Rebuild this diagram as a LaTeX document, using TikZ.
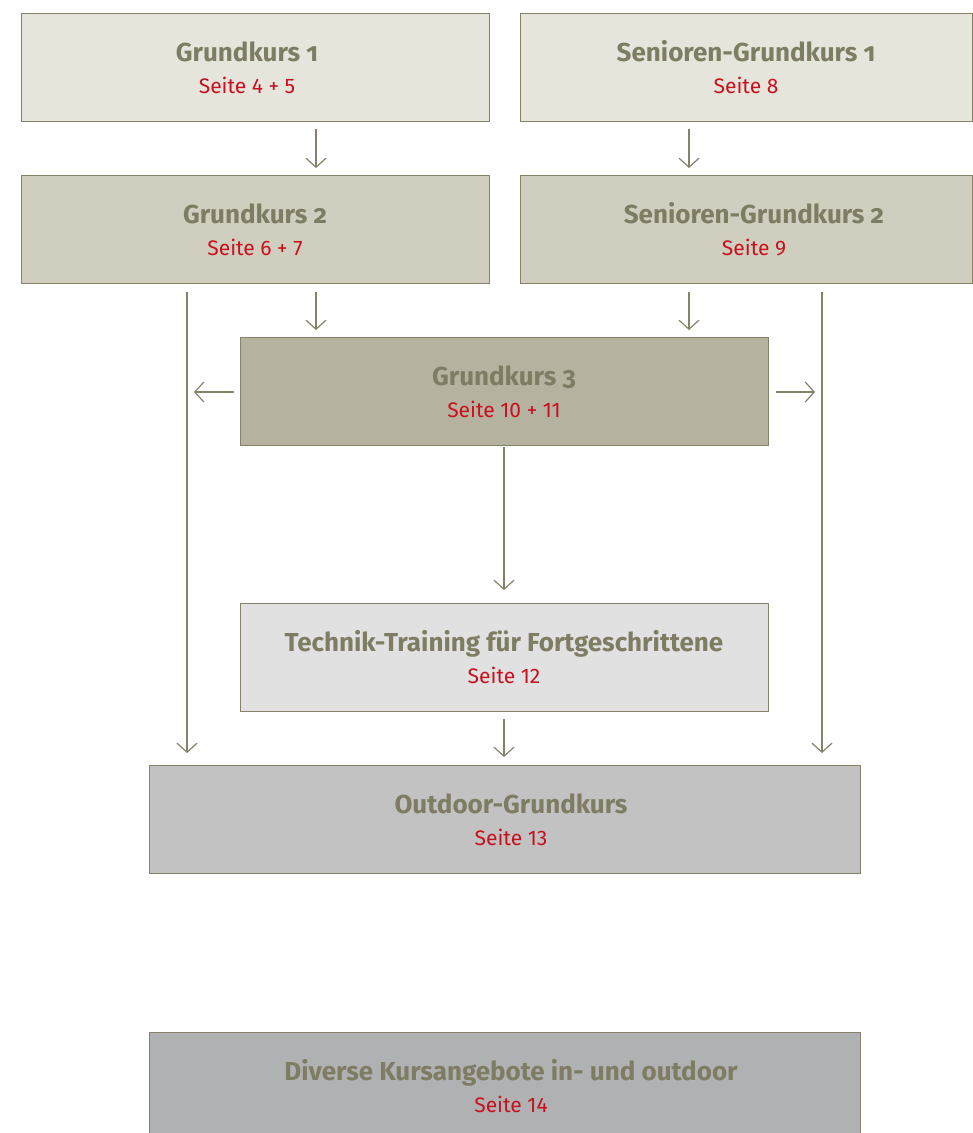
\documentclass[tikz,border=0pt]{standalone}
\usepackage{fontspec}
\setmainfont{Fira Sans}[Numbers=OldStyle]
\usetikzlibrary{arrows.meta}
\definecolor{bordc}{HTML}{858269}
\definecolor{titc}{HTML}{7E7C62}
\definecolor{redc}{HTML}{C8101E}
\definecolor{fA}{HTML}{E6E5DC}
\definecolor{fB}{HTML}{D0CEBF}
\definecolor{fC}{HTML}{B6B2A0}
\definecolor{fD}{HTML}{E1E1E1}
\definecolor{fE}{HTML}{C2C2C2}
\definecolor{fF}{HTML}{B0B1B3}
\tikzset{
  boxs/.style={draw=bordc, line width=1.3pt, rectangle, inner sep=0pt, anchor=north west},
  ttl/.style={anchor=base, text=titc, font=\fontsize{26}{30}\selectfont\bfseries},
  sub/.style={anchor=base, text=redc, font=\addfontfeatures{Numbers=Lining}\fontsize{21}{25}\selectfont},
  arr/.style={draw=bordc, line width=1.2pt, -{Straight Barb[length=9pt,width=20pt,line width=1.2pt]}}
}
\begin{document}
\begin{tikzpicture}[x=1pt,y=-1pt]
\useasboundingbox (0,0) rectangle (973,1133);
% boxes
\node[boxs, fill=fA, minimum width=468, minimum height=108] (g1) at (21,13) {};
\node[boxs, fill=fA, minimum width=452, minimum height=108] (s1) at (520,13) {};
\node[boxs, fill=fB, minimum width=468, minimum height=108] (g2) at (21,175) {};
\node[boxs, fill=fB, minimum width=452, minimum height=108] (s2) at (520,175) {};
\node[boxs, fill=fC, minimum width=528, minimum height=108] (g3) at (240,337) {};
\node[boxs, fill=fD, minimum width=528, minimum height=108] (tt) at (240,603) {};
\node[boxs, fill=fE, minimum width=711, minimum height=108] (od) at (149,765) {};
\begin{scope}
\clip (0,0) rectangle (973,1133);
\node[boxs, fill=fF, minimum width=711, minimum height=120] (dv) at (149,1032) {};
\end{scope}
% texts
\node[ttl] (g1t) at (247,61) {Grundkurs 1};
\node[sub] (g1s) at (247,93) {Seite 4 + 5};
\node[ttl] (s1t) at (746,61) {Senioren-Grundkurs 1};
\node[sub] (s1s) at (746,93) {Seite 8};
\node[ttl] (g2t) at (255,223) {Grundkurs 2};
\node[sub] (g2s) at (255,255) {Seite 6 + 7};
\node[ttl] (s2t) at (754,223) {Senioren-Grundkurs 2};
\node[sub] (s2s) at (754,255) {Seite 9};
\node[ttl] (g3t) at (504,385) {Grundkurs 3};
\node[sub] (g3s) at (504,417) {Seite 10 + 11};
\node[ttl] (ttt) at (504,651) {Technik-Training für Fortgeschrittene};
\node[sub] (tts) at (504,683) {Seite 12};
\node[ttl] (odt) at (511,813) {Outdoor-Grundkurs};
\node[sub] (ods) at (511,845) {Seite 13};
\node[ttl] (dvt) at (511,1080) {Diverse Kursangebote in- und outdoor};
\node[sub] (dvs) at (511,1112) {Seite 14};
% connector x positions
\coordinate (xa) at (316,0);
\coordinate (xb) at (689,0);
\coordinate (xl) at (187,0);
\coordinate (xr) at (822,0);
\coordinate (xm) at (504,0);
\coordinate (yh) at (0,392);
% arrows
\draw[arr, shorten <=7pt, shorten >=7pt] (g1.south -| xa) -- (g2.north -| xa);
\draw[arr, shorten <=7pt, shorten >=7pt] (s1.south -| xb) -- (s2.north -| xb);
\draw[arr, shorten <=8pt, shorten >=7pt] (g2.south -| xa) -- (g3.north -| xa);
\draw[arr, shorten <=8pt, shorten >=7pt] (s2.south -| xb) -- (g3.north -| xb);
\draw[arr, shorten <=8pt, shorten >=12pt] (g2.south -| xl) -- (od.north -| xl);
\draw[arr, shorten <=8pt, shorten >=12pt] (s2.south -| xr) -- (od.north -| xr);
\draw[arr, shorten <=6pt, shorten >=7pt] (g3.west |- yh) -- (xl |- yh);
\draw[arr, shorten <=7pt, shorten >=7pt] (g3.east |- yh) -- (xr |- yh);
\draw[arr, shorten <=1pt, shorten >=13pt] (g3.south -| xm) -- (tt.north -| xm);
\draw[arr, shorten <=7pt, shorten >=8pt] (tt.south -| xm) -- (od.north -| xm);
\end{tikzpicture}
\end{document}
